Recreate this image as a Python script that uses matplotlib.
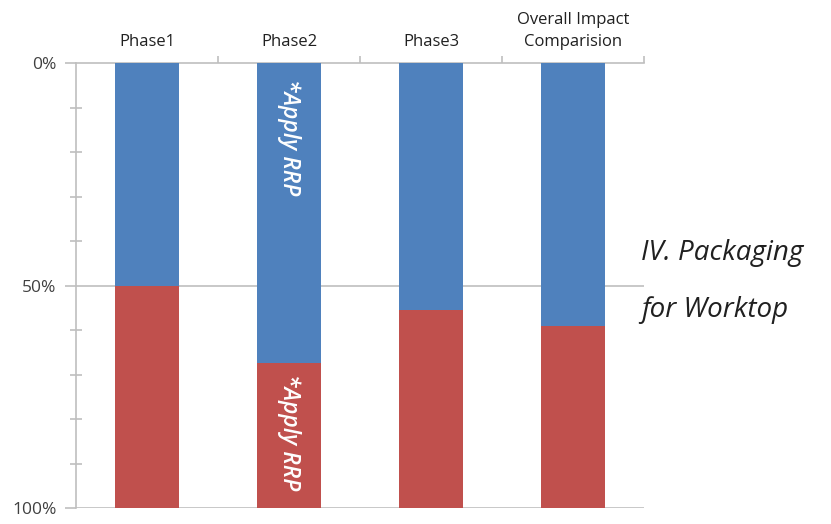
import matplotlib
matplotlib.use("Agg")
import matplotlib.pyplot as plt
from matplotlib.ticker import FixedLocator, NullFormatter

categories = ["Phase1", "Phase2", "Phase3", "Overall Impact\nComparision"]
blue_share = [50.0, 67.5, 55.5, 59.0]
red_share = [100 - b for b in blue_share]
ytick_vals = [0, 50, 100]
ytick_labels = ["0%", "50%", "100%"]
annotation = "*Apply RRP"

BLUE = "#4F81BD"
RED = "#C0504D"
GRID = "#BFBFBF"
TXT = "#404040"
FONT = "Open Sans"

fig = plt.figure(figsize=(8.31, 5.24), dpi=100)
ax = fig.add_axes([76/831, 1 - 508/524, (644 - 76)/831, (508 - 63)/524])

x = list(range(len(categories)))
w = 0.45
ax.bar(x, blue_share, width=w, color=BLUE, zorder=3)
ax.bar(x, red_share, width=w, bottom=blue_share, color=RED, zorder=3)

ax.set_xlim(-0.5, len(categories) - 0.5)
ax.set_ylim(100, 0)

for s in ["right", "bottom"]:
    ax.spines[s].set_visible(False)
ax.spines["left"].set_color(GRID)
ax.spines["top"].set_color(GRID)
ax.spines["left"].set_linewidth(1.2)
ax.spines["top"].set_linewidth(1.2)

for yv in [50, 100]:
    ax.axhline(yv, color=GRID, lw=1.2, zorder=1)

ax.set_yticks(ytick_vals)
ax.set_yticklabels(ytick_labels, fontsize=12.5, color=TXT, family=FONT)
ax.yaxis.set_minor_locator(FixedLocator([10, 20, 30, 40, 60, 70, 80, 90]))
ax.tick_params(axis="y", which="major", direction="out", length=8, color=GRID, width=1.2, pad=6)
ax.tick_params(axis="y", which="minor", direction="inout", length=8, color=GRID, width=1.2)

ax.xaxis.tick_top()
ax.set_xticks(x)
ax.set_xticklabels(categories, fontsize=12, color="#202020", family=FONT, linespacing=1.55)
ax.xaxis.set_minor_locator(FixedLocator([0.5, 1.5, 2.5, 3.5]))
ax.xaxis.set_minor_formatter(NullFormatter())
ax.tick_params(axis="x", which="major", length=0, pad=9)
ax.tick_params(axis="x", which="minor", direction="out", length=5, color=GRID, width=1.2)

# annotations in Phase2 bar
ax.text(1, 3.5, annotation, rotation=270, ha="center", va="top", color="white",
        fontsize=16.5, fontstyle="italic", fontweight="semibold", family=FONT, zorder=4)
ax.text(1, blue_share[1] + 2.5, annotation, rotation=270, ha="center", va="top",
        color="white", fontsize=16.5, fontstyle="italic", fontweight="semibold", family=FONT, zorder=4)

fig.text(641/831, 1 - 253/524, "IV. Packaging", fontsize=20, fontstyle="italic",
         family=FONT, color="#202020", ha="left", va="center")
fig.text(641/831, 1 - 310/524, "for Worktop", fontsize=20, fontstyle="italic",
         family=FONT, color="#202020", ha="left", va="center")

fig.savefig("out.png", dpi=100)
